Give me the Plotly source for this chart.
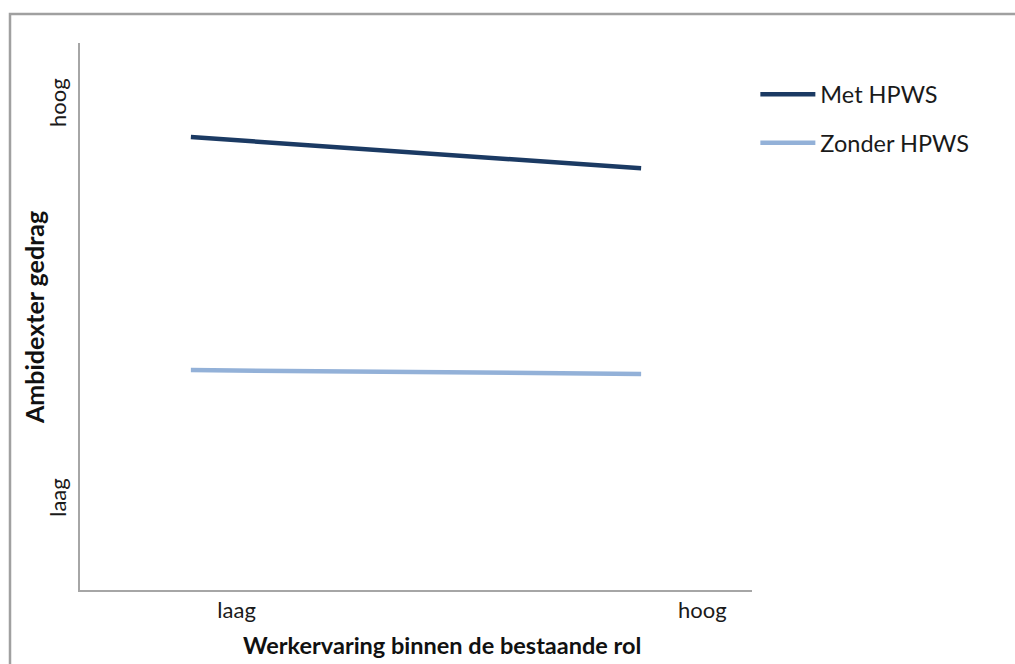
import plotly.graph_objects as go

# Interaction: work experience within the existing role x HPWS
x_levels = [0.165, 0.835]           # low / high work experience (axis units)
met_hpws = [0.828, 0.771]           # ambidextrous behaviour, with HPWS
zonder_hpws = [0.402, 0.395]        # ambidextrous behaviour, without HPWS

series_names = ["Met HPWS", "Zonder HPWS"]
series_colors = ["#1B3A63", "#93B1D8"]

x_tick_vals = [0.233, 0.926]
x_tick_text = ["laag", "hoog"]
y_tick_vals = [0.163, 0.885]
y_tick_text = ["laag", "hoog"]

x_title = "Werkervaring binnen de bestaande rol"
y_title = "Ambidexter gedrag"

FONT = "Lato, Carlito, Calibri, sans-serif"
AXIS_GREY = "#A6A6A6"

fig = go.Figure()
for i, (name, vals, col) in enumerate(zip(series_names, [met_hpws, zonder_hpws], series_colors)):
    fig.add_trace(go.Scatter(
        x=x_levels, y=vals, mode="lines", name=name,
        line=dict(color=col, width=4.5),
        legendgroup=f"g{i}",
    ))

fig.update_layout(
    width=1015, height=664,
    margin=dict(l=80, r=263, t=43, b=74),
    paper_bgcolor="white", plot_bgcolor="white",
    font=dict(family=FONT, color="#1a1a1a", size=22),
    showlegend=True,
    legend=dict(
        x=1.005, y=0.946, xanchor="left", yanchor="top",
        font=dict(family=FONT, size=23.5, color="#1a1a1a"),
        itemwidth=55, tracegroupgap=15,
        bgcolor="rgba(0,0,0,0)",
    ),
    xaxis=dict(
        range=[0, 1], showgrid=False, zeroline=False,
        showline=True, linecolor=AXIS_GREY, linewidth=2,
        tickmode="array", tickvals=x_tick_vals, ticktext=x_tick_text,
        ticks="", ticklabelstandoff=0,
        tickfont=dict(family=FONT, size=22, color="#1a1a1a"),
    ),
    yaxis=dict(
        range=[0, 1], showgrid=False, zeroline=False,
        showline=True, linecolor=AXIS_GREY, linewidth=2,
        tickmode="array", tickvals=y_tick_vals, ticktext=y_tick_text,
        ticks="", tickangle=-90, ticklabelstandoff=3,
        tickfont=dict(family=FONT, size=22, color="#1a1a1a"),
    ),
    annotations=[
        dict(text=f"<b>{x_title}</b>", xref="paper", yref="paper",
             x=0.539, y=-0.1005, xanchor="center", yanchor="middle",
             showarrow=False, font=dict(family=FONT, size=23.5, color="#111")),
        dict(text=f"<b>{y_title}</b>", xref="paper", yref="paper",
             x=-0.0685, y=0.499, xanchor="center", yanchor="middle",
             textangle=-90, showarrow=False,
             font=dict(family=FONT, size=25, color="#111")),
    ],
    shapes=[
        # outer chart frame (top and left edges visible)
        dict(type="rect", xref="paper", yref="paper",
             x0=(10 - 80) / 672, x1=(1020 - 80) / 672,
             y0=(590 - 680) / 547, y1=(590 - 14) / 547,
             line=dict(color="#A0A0A0", width=2.5), layer="below"),
    ],
)

fig.write_html("out.html")
